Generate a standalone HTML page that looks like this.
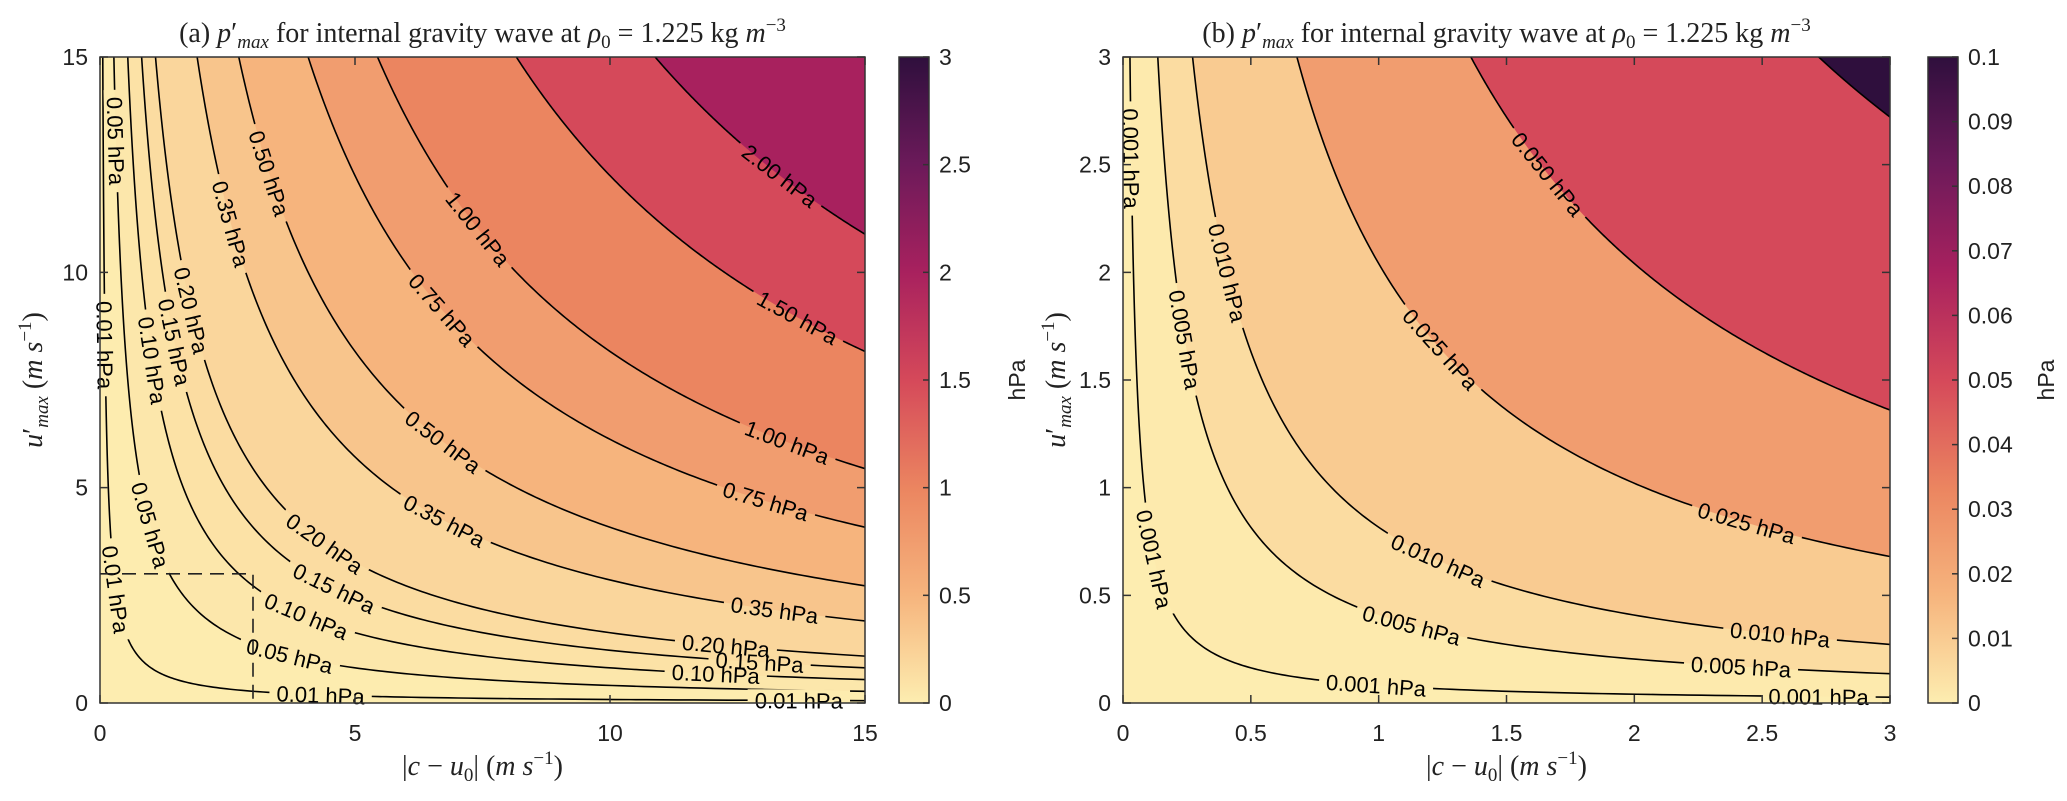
<!DOCTYPE html>
<html><head><meta charset="utf-8">
<style>
html,body{margin:0;padding:0;background:#fff;}
svg{display:block;}
.tick{font-family:"Liberation Sans",sans-serif;font-size:23px;fill:#222;}
.lab{font-family:"Liberation Sans",sans-serif;font-size:22px;fill:#000;}
.ser{font-family:"Liberation Serif",serif;font-size:28px;fill:#222;}
</style></head>
<body>
<svg id="chart" width="2067" height="801" viewBox="0 0 2067 801" xmlns="http://www.w3.org/2000/svg">
<defs>
<linearGradient id="cmap" x1="0" y1="1" x2="0" y2="0">
<stop offset="0" stop-color="#fdedb0"/><stop offset="0.167" stop-color="#f6b47d"/>
<stop offset="0.333" stop-color="#eb8560"/><stop offset="0.5" stop-color="#d5495a"/>
<stop offset="0.667" stop-color="#a8215e"/><stop offset="0.833" stop-color="#6c1a5a"/>
<stop offset="1" stop-color="#2f0f3d"/></linearGradient>
</defs>
</svg>
<script>
const rho = 1.225;
const levelsA = [0.01,0.05,0.10,0.15,0.20,0.35,0.50,0.75,1.00,1.50,2.00];
const labelTextA = ["0.01 hPa","0.05 hPa","0.10 hPa","0.15 hPa","0.20 hPa","0.35 hPa","0.50 hPa","0.75 hPa","1.00 hPa","1.50 hPa","2.00 hPa"];
const labelPtsA = [
  [[0.13,11],[0.34,2.9],[5.5,0.24],[13.8,0.06]],
  [[0.29,12.1],[0.98,4.1],[5.25,1.55]],
  [[0.98,7.6],[3.95,1.97],[12.5,0.7]],
  [[1.43,8.2],[4.6,2.67],[13.25,0.97]],
  [[1.76,8.96],[4.47,3.76],[13.1,1.42]],
  [[2.55,11.05],[6.67,4.18],[13.9,2.27]],
  [[3.29,12.2],[7.05,6.36]],
  [[6.7,9.12],[13.5,4.85]],
  [[7.39,10.98],[12.9,5.8]],
  [[13.6,8.9]],
  [[13.5,12.4]]];
const xTicksA = [0,5,10,15], yTicksA = [0,5,10,15], cbTicksA = [0,0.5,1,1.5,2,2.5,3];
const cbLabelsA = ["0","0.5","1","1.5","2","2.5","3"];
const levelsB = [0.001,0.005,0.010,0.025,0.050,0.100];
const labelTextB = ["0.001 hPa","0.005 hPa","0.010 hPa","0.025 hPa","0.050 hPa","0.100 hPa"];
const labelPtsB = [
  [[0.03,2.35],[0.15,0.82],[1.08,0.09],[2.72,0.03]],
  [[0.235,1.64],[1.03,0.33],[2.72,0.19]],
  [[0.405,1.98],[1.08,0.58],[2.67,0.33]],
  [[1.24,1.64],[2.42,0.83]],
  [[1.65,2.44]],
  []];
const xTicksB = [0,0.5,1,1.5,2,2.5,3], yTicksB = [0,0.5,1,1.5,2,2.5,3];
const cbTicksB = [0,0.01,0.02,0.03,0.04,0.05,0.06,0.07,0.08,0.09,0.1];
const cbLabelsB = ["0","0.01","0.02","0.03","0.04","0.05","0.06","0.07","0.08","0.09","0.1"];

const NS="http://www.w3.org/2000/svg";
const svg=document.getElementById('chart');
const stops=[[0,[253,237,176]],[0.167,[246,180,125]],[0.333,[235,133,96]],[0.5,[213,73,90]],[0.667,[168,33,94]],[0.833,[108,26,90]],[1,[47,15,61]]];
function cmap(t){t=Math.max(0,Math.min(1,t));for(let i=1;i<stops.length;i++){if(t<=stops[i][0]){const a=stops[i-1],b=stops[i],f=(t-a[0])/(b[0]-a[0]);return 'rgb('+a[1].map((v,k)=>Math.round(v+(b[1][k]-v)*f)).join(',')+')';}}return 'rgb(47,15,61)';}
function el(tag,attrs,parent){const e=document.createElementNS(NS,tag);for(const k in attrs)e.setAttribute(k,attrs[k]);(parent||svg).appendChild(e);return e;}

function panel(c){
  const g=el('g',{});
  
  
  const sx=v=>c.L+(v/c.max)*(c.R-c.L), sy=v=>c.B-(v/c.max)*(c.B-c.T);
  const clip=el('clipPath',{id:c.id+'clip'},g);
  el('rect',{x:c.L,y:c.T,width:c.R-c.L,height:c.B-c.T},clip);
  const bg=el('rect',{x:c.L,y:c.T,width:c.R-c.L,height:c.B-c.T,fill:cmap(0)},g);
  
  
  function curve(K){const x0=Math.max(K*100/rho/c.max,1e-9);const pts=[];const n=200;for(let i=0;i<=n;i++){const x=x0*Math.pow(c.max/x0,i/n);pts.push([x,K*100/rho/x]);}return pts;}
  const mask=el('mask',{id:c.id+'mask'},g);
  el('rect',{x:0,y:0,width:2067,height:801,fill:'#fff'},mask);
  const fills=el('g',{'clip-path':'url(#'+c.id+'clip)'},g);
  const lines=el('g',{'clip-path':'url(#'+c.id+'clip)',mask:'url(#'+c.id+'mask)'},g);
  const labs=el('g',{},g);
  c.levels.forEach((K,i)=>{
    if(K*100/rho/c.max>c.max) return;
    const pts=curve(K);
    const d=pts.map((p,j)=>(j?'L':'M')+sx(p[0]).toFixed(2)+','+sy(p[1]).toFixed(2)).join('');
    const f=el('path',{d:d+'L'+sx(c.max)+','+sy(c.max)+'Z',fill:cmap(K/c.cmax)},fills);
    
    
    const l=el('path',{d:d,fill:'none',stroke:'#000','stroke-width':1.6},lines);
    
    
    const KK=K*100/rho;
    c.labelPts[i].forEach(pt=>{
      const s=Math.sqrt(KK/(pt[0]*pt[1]));
      const x=pt[0]*s, y=pt[1]*s;
      const px=sx(x),py=sy(y);
      const dx=sx(x*1.01)-px, dy=sy(KK/(x*1.01))-py;
      let ang=Math.atan2(dy,dx)*180/Math.PI; if(ang>90)ang-=180; if(ang<-90)ang+=180;
      const w=c.labels[i].length*11.8+8;
      el('rect',{x:px-w/2,y:py-11,width:w,height:22,fill:'#000',transform:'rotate('+ang+' '+px+' '+py+')'},mask);
      const t=el('text',{x:px,y:py+8,'text-anchor':'middle',class:'lab',transform:'rotate('+ang+' '+px+' '+py+')'},labs);
      t.textContent=c.labels[i];
      
      
    });
  });
  if(c.dash){const db=el('path',{d:'M'+sx(0)+','+sy(3)+'L'+sx(3)+','+sy(3)+'L'+sx(3)+','+sy(0),fill:'none',stroke:'#222','stroke-width':1.6,'stroke-dasharray':'14,8'},g);
    }
  const fr=el('rect',{x:c.L,y:c.T,width:c.R-c.L,height:c.B-c.T,fill:'none',stroke:'#333','stroke-width':1.5},g);
  
  c.xt.forEach(v=>{const x=sx(v);el('path',{d:'M'+x+','+c.B+'v-8M'+x+','+c.T+'v8',stroke:'#333','stroke-width':1.5},g);
    const t=el('text',{x:x,y:c.B+38,'text-anchor':'middle',class:'tick'},g);t.textContent=String(v);
    });
  c.yt.forEach(v=>{const y=sy(v);el('path',{d:'M'+c.L+','+y+'h8M'+c.R+','+y+'h-8',stroke:'#333','stroke-width':1.5},g);
    const t=el('text',{x:c.L-12,y:y+8,'text-anchor':'end',class:'tick'},g);t.textContent=String(v);
    });
  const cb=el('rect',{x:c.cbL,y:c.T,width:30,height:c.B-c.T,fill:'url(#cmap)',stroke:'#333','stroke-width':1.5},g);
  
  c.cbt.forEach((v,i)=>{const y=c.B-(v/c.cmax)*(c.B-c.T);el('path',{d:'M'+(c.cbL+30)+','+y+'h-6',stroke:'#333','stroke-width':1.5},g);
    const t=el('text',{x:c.cbL+40,y:y+8,class:'tick'},g);t.textContent=c.cbl[i];
    });
  const cbt=el('text',{x:c.cbL+126,y:(c.T+c.B)/2,'text-anchor':'middle',class:'tick',transform:'rotate(-90 '+(c.cbL+126)+' '+((c.T+c.B)/2)+')','font-size':'20'},g);
  cbt.textContent='hPa';
  const ti=el('text',{x:(c.L+c.R)/2,y:42,'text-anchor':'middle',class:'ser'},g);
  ti.innerHTML='('+c.id+') <tspan font-style="italic">p</tspan>′<tspan font-style="italic" font-size="19" dy="6">max</tspan><tspan dy="-6"> for internal gravity wave at </tspan><tspan font-style="italic">ρ</tspan><tspan font-size="19" dy="6">0</tspan><tspan dy="-6"> = 1.225 kg </tspan><tspan font-style="italic">m</tspan><tspan font-size="19" dy="-11">−3</tspan>';
  
  const xl=el('text',{x:(c.L+c.R)/2,y:c.B+72,'text-anchor':'middle',class:'ser'},g);
  xl.innerHTML='|<tspan font-style="italic">c</tspan> − <tspan font-style="italic">u</tspan><tspan font-size="19" dy="6">0</tspan><tspan dy="-6">| (</tspan><tspan font-style="italic">m s</tspan><tspan font-size="19" dy="-11">−1</tspan><tspan dy="11">)</tspan>';
  
  const yx=c.L-58,yy=(c.T+c.B)/2;
  const yl=el('text',{x:yx,y:yy,'text-anchor':'middle',class:'ser',transform:'rotate(-90 '+yx+' '+yy+')'},g);
  yl.innerHTML='<tspan font-style="italic">u</tspan>′<tspan font-style="italic" font-size="19" dy="6">max</tspan><tspan dy="-6"> (</tspan><tspan font-style="italic">m s</tspan><tspan font-size="19" dy="-11">−1</tspan><tspan dy="11">)</tspan>';
  
}
panel({id:'a',L:100,R:865,T:57,B:703,max:15,cmax:3,levels:levelsA,labels:labelTextA,labelPts:labelPtsA,xt:xTicksA,yt:yTicksA,cbt:cbTicksA,cbl:cbLabelsA,cbL:899,dash:true});
panel({id:'b',L:1123,R:1890,T:57,B:703,max:3,cmax:0.1,levels:levelsB,labels:labelTextB,labelPts:labelPtsB,xt:xTicksB,yt:yTicksB,cbt:cbTicksB,cbl:cbLabelsB,cbL:1928,dash:false});
</script>
</body></html>
